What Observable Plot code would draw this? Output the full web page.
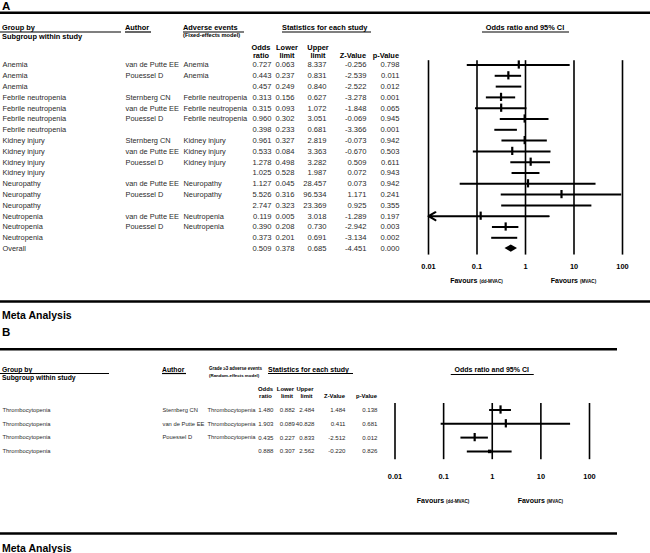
<!DOCTYPE html>
<html><head><meta charset="utf-8">
<script src="https://cdn.jsdelivr.net/npm/d3@7"></script>
<script src="https://cdn.jsdelivr.net/npm/@observablehq/plot@0.6"></script>
<style>
body{margin:0;background:#fff;}
#chart svg{display:block;}
</style></head><body><div id="chart"></div>
<script>
// ---------- Panel A data ----------
const groupA = ["Anemia","Anemia","Anemia","Febrile neutropenia","Febrile neutropenia","Febrile neutropenia","Febrile neutropenia","Kidney injury","Kidney injury","Kidney injury","Kidney injury","Neuropathy","Neuropathy","Neuropathy","Neutropenia","Neutropenia","Neutropenia","Overall"];
const authorA = ["van de Putte EE","Pouessel D","","Sternberg CN","van de Putte EE","Pouessel D","","Sternberg CN","van de Putte EE","Pouessel D","","van de Putte EE","Pouessel D","","van de Putte EE","Pouessel D","",""];
const eventA = ["Anemia","Anemia","","Febrile neutropenia","Febrile neutropenia","Febrile neutropenia","","Kidney injury","Kidney injury","Kidney injury","","Neuropathy","Neuropathy","","Neutropenia","Neutropenia","",""];
const orA = [0.727,0.443,0.457,0.313,0.315,0.960,0.398,0.961,0.533,1.278,1.025,1.127,5.526,2.747,0.119,0.390,0.373,0.509];
const lowerA = [0.063,0.237,0.249,0.156,0.093,0.302,0.233,0.327,0.084,0.498,0.528,0.045,0.316,0.323,0.005,0.208,0.201,0.378];
const upperA = [8.337,0.831,0.840,0.627,1.072,3.051,0.681,2.819,3.363,3.282,1.987,28.457,96.534,23.369,3.018,0.730,0.691,0.685];
const zA = [-0.256,-2.539,-2.522,-3.278,-1.848,-0.069,-3.366,-0.073,-0.670,0.509,0.072,0.073,1.171,0.925,-1.289,-2.942,-3.134,-4.451];
const pA = [0.798,0.011,0.012,0.001,0.065,0.945,0.001,0.942,0.503,0.611,0.943,0.942,0.241,0.355,0.197,0.003,0.002,0.000];

// ---------- Panel B data ----------
const groupB = ["Thrombocytopenia","Thrombocytopenia","Thrombocytopenia","Thrombocytopenia"];
const authorB = ["Sternberg CN","van de Putte EE","Pouessel D",""];
const eventB = ["Thrombocytopenia","Thrombocytopenia","Thrombocytopenia",""];
const orB = [1.480,1.903,0.435,0.888];
const lowerB = [0.882,0.089,0.227,0.307];
const upperB = [2.484,40.828,0.833,2.562];
const zB = [1.484,0.411,-2.512,-0.220];
const pB = [0.138,0.681,0.012,0.826];

// ---------- axis ----------
const tickValues = [0.01,0.1,1,10,100];
const tickLabels = ["0.01","0.1","1","10","100"];

const FONT = "'Liberation Sans', Arial, Helvetica, sans-serif";
const f3 = v => v.toFixed(3);

function makeRows(g, a, e, o, lo, hi, z, p) {
  return g.map((gg, i) => ({i, group: gg, author: a[i], event: e[i], or: o[i], lo: lo[i], hi: hi[i], z: z[i], p: p[i],
    pooled: a[i] === "", overall: gg === "Overall"}));
}

function deco(svg, baseSize) {
  const s = d3.select(svg);
  return {
    text(x, y, str, o = {}) {
      return s.append("text").attr("x", x).attr("y", y)
        .attr("font-size", o.size || baseSize).attr("font-weight", o.bold === false ? null : "bold")
        .attr("text-anchor", o.anchor || "start").attr("fill", o.fill || "#000").text(str);
    },
    rule(x1, y1, x2, y2, w = 1.2) {
      s.append("line").attr("x1", x1).attr("x2", x2).attr("y1", y1).attr("y2", y2)
        .attr("stroke", "#000").attr("stroke-width", w);
    },
    favours(x, y, small) {
      const t = s.append("text").attr("x", x).attr("y", y).attr("text-anchor", "middle")
        .attr("font-weight", "bold").attr("fill", "#000");
      t.append("tspan").attr("font-size", 7).text("Favours ");
      t.append("tspan").attr("font-size", 4.6).text(small);
    }
  };
}

function forestMarks(rows, cfg) {
  const study = rows.filter(d => !d.pooled);
  const lines = rows.filter(d => !d.overall && d.lo >= 0.01);
  const clipped = rows.filter(d => d.lo < 0.01);
  const overall = rows.filter(d => d.overall);
  const diamond = overall.flatMap(d => [
    {y: d.i - cfg.dh, x1: d.or, x2: d.or},
    {y: d.i, x1: d.lo, x2: d.hi},
    {y: d.i + cfg.dh, x1: d.or, x2: d.or}
  ]);
  const pooledDots = cfg.pooledDot ? rows.filter(d => d.pooled && !d.overall) : [];
  const n = rows.length;
  return [
    Plot.ruleX(tickValues, {y1: -cfg.top, y2: n - 1 + cfg.bottom, stroke: "#000", strokeWidth: 1.6}),
    Plot.ruleY(lines, {y: "i", x1: "lo", x2: d => Math.min(d.hi, 100), stroke: "#000", strokeWidth: 2}),
    Plot.arrow(clipped, {x1: "hi", x2: () => 0.01, y1: "i", y2: "i", stroke: "#000", strokeWidth: 2, headLength: 6}),
    Plot.ruleX(study, {x: "or", y1: d => d.i - cfg.th, y2: d => d.i + cfg.th, stroke: "#000", strokeWidth: 2.2}),
    Plot.dot(pooledDots, {x: "or", y: "i", symbol: "square", r: 2, fill: "#000"}),
    Plot.areaX(diamond, {y: "y", x1: "x1", x2: "x2", fill: "#000", curve: "linear"}),
    Plot.text(tickValues, {x: d => d, text: (d, i) => tickLabels[i], frameAnchor: "top", dy: cfg.tickY,
      fontWeight: "bold", fontSize: 7.4, fill: "#000"})
  ];
}

function tableMarks(rows, c) {
  const common = {y: "i", frameAnchor: "left", fill: "#2a2a2a"};
  return [
    Plot.text(rows, {...common, fontSize: c.size, text: "group", dx: c.group, textAnchor: "start"}),
    Plot.text(rows, {...common, fontSize: c.size, text: "author", dx: c.author, textAnchor: "start"}),
    Plot.text(rows, {...common, fontSize: c.size, text: "event", dx: c.event, textAnchor: "start"}),
    Plot.text(rows, {...common, fontSize: c.num, text: d => f3(d.or), dx: c.or, textAnchor: "end"}),
    Plot.text(rows, {...common, fontSize: c.num, text: d => f3(d.lo), dx: c.lo, textAnchor: "end"}),
    Plot.text(rows, {...common, fontSize: c.num, text: d => f3(d.hi), dx: c.hi, textAnchor: "end"}),
    Plot.text(rows, {...common, fontSize: c.num, text: d => f3(d.z), dx: c.z, textAnchor: "end"}),
    Plot.text(rows, {...common, fontSize: c.num, text: d => f3(d.p), dx: c.p, textAnchor: "end"})
  ];
}

// ---------- Panel A ----------
const rowsA = makeRows(groupA, authorA, eventA, orA, lowerA, upperA, zA, pA);
const plotA = Plot.plot({
  width: 650, height: 300, margin: 0,
  style: {fontFamily: FONT, fontSize: "8px", background: "#fff", color: "#000", overflow: "visible"},
  x: {type: "log", domain: [0.01, 100], range: [428, 622], axis: null},
  y: {domain: [0, rowsA.length - 1], range: [64.5, 64.5 + (rowsA.length - 1) * 10.8], axis: null},
  marks: [
    ...tableMarks(rowsA, {size: 7.4, num: 7.6, group: 2, author: 125, event: 183, or: 271, lo: 294, hi: 326, z: 366, p: 399}),
    ...forestMarks(rowsA, {top: 0.4, bottom: 0.6, th: 0.38, dh: 0.33, tickY: 263, pooledDot: false})
  ]
});
{
  const d = deco(plotA, 7.4);
  const xs = plotA.scale("x");
  d.text(2, 9.5, "A", {size: 11.5});
  d.rule(0, 12.7, 650, 12.7, 2.4);
  d.text(2, 29.5, "Group by"); d.rule(0, 32, 121, 32);
  d.text(2, 39, "Subgroup within study");
  d.text(125, 29.5, "Author"); d.rule(125, 32, 151, 32);
  d.text(183, 29.5, "Adverse events"); d.rule(183, 32, 244, 32);
  d.text(183, 37, "(Fixed-effects model)", {size: 5.7});
  d.text(282, 29.5, "Statistics for each study"); d.rule(282, 32, 371, 32);
  d.text(261, 50, "Odds", {anchor: "middle"}); d.text(261, 58, "ratio", {anchor: "middle"});
  d.text(287, 50, "Lower", {anchor: "middle"}); d.text(287, 58, "limit", {anchor: "middle"});
  d.text(318, 50, "Upper", {anchor: "middle"}); d.text(318, 58, "limit", {anchor: "middle"});
  d.text(366, 58, "Z-Value", {anchor: "end"});
  d.text(399, 58, "p-Value", {anchor: "end"});
  const cx = xs.apply(1);
  d.text(cx, 29.5, "Odds ratio and 95% CI", {anchor: "middle"}); d.rule(cx - 43, 32, cx + 44, 32);
  d.favours(xs.apply(0.1), 282.5, "(dd-MVAC)");
  d.favours(xs.apply(10), 282.5, "(MVAC)");
  d.rule(0, 301.5, 650, 301.5, 2.4);
}

// ---------- Panel B ----------
const rowsB = makeRows(groupB, authorB, eventB, orB, lowerB, upperB, zB, pB);
const plotB = Plot.plot({
  width: 650, height: 253, margin: 0,
  style: {fontFamily: FONT, fontSize: "6px", background: "#fff", color: "#000", overflow: "visible"},
  x: {type: "log", domain: [0.01, 100], range: [394.5, 589], axis: null},
  y: {domain: [0, rowsB.length - 1], range: [109.5, 109.5 + (rowsB.length - 1) * 13.8], axis: null},
  marks: [
    ...tableMarks(rowsB, {size: 5.8, num: 6.1, group: 2, author: 162, event: 207, or: 273, lo: 294.5, hi: 314, z: 345, p: 377}),
    ...forestMarks(rowsB, {top: 0.47, bottom: 0.6, th: 0.3, dh: 0.3, tickY: 173, pooledDot: true})
  ]
});
{
  const d = deco(plotB, 5.9);
  const xs = plotB.scale("x");
  d.text(2, 18.5, "Meta Analysis", {size: 10.5});
  d.text(2, 36, "B", {size: 11.5});
  d.rule(0, 49.3, 617, 49.3, 2.4);
  d.text(2, 71.5, "Group by", {size: 6.8}); d.rule(0, 73.5, 109, 73.5);
  d.text(2, 79.5, "Subgroup within study", {size: 6.8});
  d.text(162, 71.5, "Author", {size: 6.8}); d.rule(162, 73.5, 186, 73.5);
  d.text(209, 70, "Grade \u22653 adverse events", {size: 4.5});
  d.text(209, 76.5, "(Random-effects model)", {size: 4.4});
  d.text(268, 71.5, "Statistics for each study", {size: 7}); d.rule(268, 73.5, 353, 73.5);
  d.text(265.5, 90.5, "Odds", {anchor: "middle"}); d.text(265.5, 98, "ratio", {anchor: "middle"});
  d.text(285.5, 90.5, "Lower", {anchor: "middle"}); d.text(287, 98, "limit", {anchor: "middle"});
  d.text(305, 90.5, "Upper", {anchor: "middle"}); d.text(306.5, 98, "limit", {anchor: "middle"});
  d.text(345, 98, "Z-Value", {anchor: "end"});
  d.text(377, 98, "p-Value", {anchor: "end"});
  const cx = xs.apply(1);
  d.text(cx, 71.5, "Odds ratio and 95% CI", {anchor: "middle", size: 7}); d.rule(cx - 41, 74.5, cx + 42, 74.5);
  d.favours(xs.apply(0.1), 203, "(dd-MVAC)");
  d.favours(xs.apply(10), 203, "(MVAC)");
  d.rule(0, 233.5, 617, 233.5, 2.4);
  d.text(2, 252, "Meta Analysis", {size: 10.5});
}

document.getElementById("chart").append(plotA, plotB);
</script>
</body></html>
